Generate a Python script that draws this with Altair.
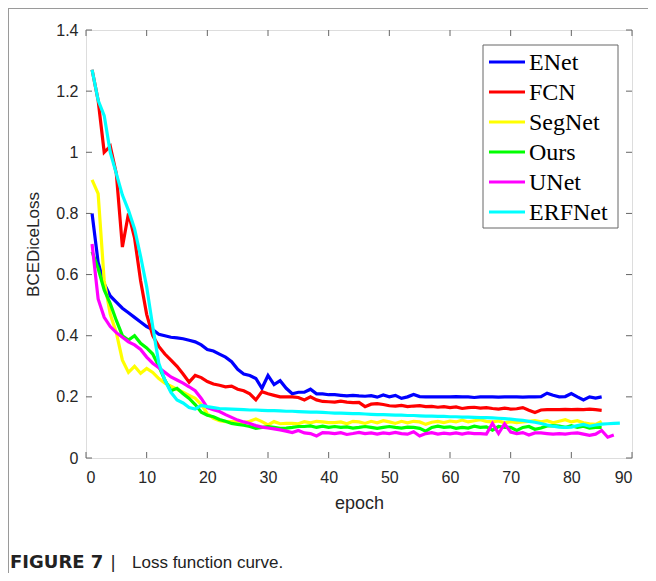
import altair as alt
import pandas as pd

series_names = ["ENet", "FCN", "SegNet", "Ours", "UNet", "ERFNet"]
series_colors = ["#0000FF", "#FF0000", "#FFFF00", "#00FF00", "#FF00FF", "#00FFFF"]
series_widths = [3.2, 3.2, 3.2, 3.2, 2.6, 3.2]
legend_widths = [4, 4, 4, 4, 2.5, 4]

enet = [0.80, 0.64, 0.57, 0.53, 0.51, 0.49, 0.475, 0.46, 0.445, 0.43,
        0.42, 0.405, 0.40, 0.395, 0.393, 0.39, 0.385, 0.38, 0.37, 0.355,
        0.35, 0.34, 0.33, 0.315, 0.29, 0.275, 0.27, 0.26, 0.228, 0.27,
        0.24, 0.253, 0.228, 0.21, 0.215, 0.215, 0.225, 0.21, 0.21, 0.207,
        0.207, 0.205, 0.203, 0.205, 0.203, 0.202, 0.204, 0.199, 0.206, 0.2,
        0.205, 0.195, 0.2, 0.208, 0.201, 0.2, 0.2, 0.2, 0.2, 0.2,
        0.201, 0.2, 0.2, 0.198, 0.2, 0.2, 0.2, 0.199, 0.2, 0.2,
        0.2, 0.199, 0.2, 0.2, 0.201, 0.212, 0.205, 0.2, 0.201, 0.211,
        0.2, 0.19, 0.2, 0.196, 0.2]

fcn = [1.27, 1.17, 1.0, 1.02, 0.93, 0.69, 0.80, 0.72, 0.58, 0.47,
       0.40, 0.365, 0.34, 0.32, 0.30, 0.275, 0.248, 0.27, 0.263, 0.25,
       0.242, 0.238, 0.233, 0.235, 0.225, 0.22, 0.21, 0.19, 0.217, 0.21,
       0.205, 0.2, 0.2, 0.2, 0.198, 0.19, 0.2, 0.19, 0.185, 0.184,
       0.183, 0.186, 0.183, 0.181, 0.182, 0.168, 0.176, 0.178, 0.175, 0.171,
       0.17, 0.172, 0.168, 0.17, 0.171, 0.168, 0.169, 0.166, 0.168, 0.165,
       0.167, 0.162, 0.165, 0.166, 0.163, 0.165, 0.162, 0.16, 0.163, 0.16,
       0.161, 0.165, 0.156, 0.149, 0.157, 0.158, 0.158, 0.158, 0.159, 0.158,
       0.159, 0.158, 0.16, 0.158, 0.156]

segnet = [0.91, 0.865, 0.58, 0.47, 0.41, 0.32, 0.28, 0.30, 0.277, 0.293,
          0.28, 0.26, 0.245, 0.235, 0.225, 0.215, 0.205, 0.195, 0.175, 0.145,
          0.13, 0.122, 0.119, 0.119, 0.118, 0.116, 0.12, 0.128, 0.119, 0.108,
          0.119, 0.112, 0.113, 0.113, 0.112, 0.119, 0.115, 0.12, 0.118, 0.116,
          0.116, 0.118, 0.112, 0.12, 0.118, 0.113, 0.12, 0.115, 0.122, 0.118,
          0.113, 0.12, 0.115, 0.12, 0.118, 0.11, 0.117, 0.12, 0.116, 0.121,
          0.118, 0.124, 0.118, 0.122, 0.125, 0.12, 0.118, 0.121, 0.115, 0.119,
          0.116, 0.118, 0.12, 0.122, 0.118, 0.122, 0.115, 0.12, 0.125, 0.118,
          0.122, 0.115, 0.112, 0.11, 0.12]

ours = [0.675, 0.62, 0.55, 0.505, 0.45, 0.40, 0.386, 0.40, 0.375, 0.36,
        0.34, 0.30, 0.255, 0.22, 0.228, 0.21, 0.195, 0.175, 0.15, 0.14,
        0.135, 0.126, 0.12, 0.113, 0.11, 0.107, 0.103, 0.097, 0.1, 0.103,
        0.1, 0.097, 0.098, 0.1, 0.103, 0.103, 0.105, 0.1, 0.104, 0.1,
        0.103, 0.1, 0.102, 0.098, 0.1, 0.103, 0.1, 0.097, 0.1, 0.103,
        0.1, 0.098, 0.101, 0.1, 0.097, 0.088, 0.1, 0.104, 0.1, 0.102,
        0.097, 0.1, 0.098, 0.104, 0.1, 0.102, 0.091, 0.103, 0.1, 0.1,
        0.09, 0.1, 0.103, 0.094, 0.098, 0.105, 0.106, 0.104, 0.1, 0.106,
        0.1, 0.104, 0.098, 0.1, 0.1]

unet = [0.70, 0.52, 0.46, 0.43, 0.41, 0.395, 0.38, 0.37, 0.355, 0.33,
        0.31, 0.295, 0.28, 0.265, 0.255, 0.245, 0.233, 0.22, 0.195, 0.165,
        0.158, 0.152, 0.142, 0.133, 0.124, 0.118, 0.113, 0.106, 0.101, 0.098,
        0.095, 0.092, 0.088, 0.083, 0.09, 0.082, 0.08, 0.072, 0.083, 0.082,
        0.08, 0.083, 0.077, 0.08, 0.084, 0.08, 0.082, 0.078, 0.082, 0.08,
        0.084, 0.08, 0.078, 0.086, 0.072, 0.08, 0.083, 0.078, 0.081, 0.079,
        0.082, 0.078, 0.082, 0.08, 0.08, 0.078, 0.113, 0.08, 0.112, 0.085,
        0.08, 0.083, 0.075, 0.082, 0.082, 0.08, 0.078, 0.08, 0.078, 0.081,
        0.082, 0.078, 0.074, 0.078, 0.09, 0.068, 0.075]

erfnet = [1.27, 1.17, 1.12, 1.0, 0.93, 0.86, 0.81, 0.75, 0.66, 0.56,
          0.43, 0.31, 0.255, 0.215, 0.19, 0.18, 0.165, 0.16, 0.172, 0.168,
          0.165, 0.162, 0.161, 0.16, 0.159, 0.158, 0.157, 0.157, 0.156, 0.155,
          0.155, 0.154, 0.153, 0.153, 0.152, 0.151, 0.15, 0.15, 0.149, 0.148,
          0.147, 0.147, 0.146, 0.145, 0.145, 0.144, 0.143, 0.142, 0.142, 0.141,
          0.14, 0.14, 0.139, 0.139, 0.138, 0.137, 0.137, 0.136, 0.136, 0.135,
          0.135, 0.134, 0.134, 0.133, 0.132, 0.132, 0.131, 0.13, 0.129, 0.127,
          0.125, 0.123, 0.12, 0.117, 0.113, 0.108, 0.104, 0.101, 0.1, 0.101,
          0.106, 0.11, 0.104, 0.108, 0.111, 0.112, 0.113, 0.114]

x_ticks = [0, 10, 20, 30, 40, 50, 60, 70, 80, 90]
y_ticks = [0, 0.2, 0.4, 0.6, 0.8, 1.0, 1.2, 1.4]

rows = []
for si, (name, vals) in enumerate(zip(series_names, [enet, fcn, segnet, ours, unet, erfnet])):
    for i, v in enumerate(vals):
        rows.append({"epoch": i + 1, "loss": v, "model": name, "order": si})
df = pd.DataFrame(rows)
legdf = pd.DataFrame({"model": series_names})

W, H = 546, 428
AX = "#666666"
FONT = "Liberation Sans"

xscale = alt.Scale(domain=[0, 90], nice=False)
yscale = alt.Scale(domain=[0, 1.4], nice=False)
cscale = alt.Scale(domain=series_names, range=series_colors)

X_ENC = alt.X("epoch:Q", scale=xscale, title="epoch",
              axis=alt.Axis(values=x_ticks, grid=False, domain=False, ticks=False,
                            labelPadding=11, labelFontSize=16, labelFont=FONT,
                            labelColor="#262626", titleFont=FONT, titleFontSize=18,
                            titleFontWeight="normal", titleColor="#262626", titlePadding=9))

lines = alt.Chart(df).mark_line(clip=True).encode(
    x=X_ENC,
    y=alt.Y("loss:Q", scale=yscale, title="BCEDiceLoss",
            axis=alt.Axis(values=y_ticks, format="~g", grid=False, domain=False, ticks=False,
                          labelPadding=8, labelFontSize=16, labelFont=FONT,
                          labelColor="#262626", titleFont=FONT, titleFontSize=17,
                          titleFontWeight="normal", titleColor="#262626", titlePadding=13)),
    color=alt.Color("model:N", scale=cscale, legend=None),
    strokeWidth=alt.StrokeWidth("model:N", scale=alt.Scale(domain=series_names, range=series_widths), legend=None),
    detail="model:N",
    order=alt.Order("order:Q"),
)

xt = pd.DataFrame({"epoch": x_ticks})
yt = pd.DataFrame({"t": y_ticks})

tick_bottom = alt.Chart(xt).mark_rule(color=AX, strokeWidth=1).encode(
    x=X_ENC, y=alt.value(H), y2=alt.value(H - 6))
tick_top = alt.Chart(xt).mark_rule(color=AX, strokeWidth=1).encode(
    x=X_ENC, y=alt.value(0), y2=alt.value(6))
tick_left = alt.Chart(yt).mark_rule(color=AX, strokeWidth=1).encode(
    y=alt.Y("t:Q", scale=yscale, axis=None), x=alt.value(0), x2=alt.value(6))
tick_right = alt.Chart(yt).mark_rule(color=AX, strokeWidth=1).encode(
    y=alt.Y("t:Q", scale=yscale, axis=None), x=alt.value(W), x2=alt.value(W - 6))

# manual legend box
leg_box = alt.Chart(pd.DataFrame({"a": [0]})).mark_rect(
    fill="white", stroke=AX, strokeWidth=1
).encode(x=alt.value(397), x2=alt.value(532), y=alt.value(15), y2=alt.value(198))

leg_y = alt.Y("model:N", sort=series_names,
              scale=alt.Scale(type="point", domain=series_names, range=[32, 182], padding=0),
              axis=None)
leg_lines = alt.Chart(legdf).mark_rule().encode(
    y=leg_y, x=alt.value(403), x2=alt.value(439),
    color=alt.Color("model:N", scale=cscale, legend=None),
    strokeWidth=alt.StrokeWidth("model:N", scale=alt.Scale(domain=series_names, range=legend_widths), legend=None),
)
leg_text = alt.Chart(legdf).mark_text(
    align="left", baseline="middle", font="Liberation Serif", fontSize=24, color="black", dy=1
).encode(y=leg_y, x=alt.value(443), text="model:N")

frame_top = alt.Chart(pd.DataFrame({"a": [0]})).mark_rule(color="#9a9a9a", strokeWidth=1).encode(
    x=alt.value(-78), x2=alt.value(W + 16), y=alt.value(-21.5))
frame_left = alt.Chart(pd.DataFrame({"a": [0]})).mark_rule(color="#9a9a9a", strokeWidth=1).encode(
    x=alt.value(-77.5), y=alt.value(-22), y2=alt.value(H + 115))

cap1 = alt.Chart(pd.DataFrame({"s": ["FIGURE 7"]})).mark_text(
    align="left", baseline="middle", font="DejaVu Sans", fontSize=18, fontWeight="bold", color="#222222"
).encode(x=alt.value(-76), y=alt.value(533), text="s:N")
cap2 = alt.Chart(pd.DataFrame({"s": ["|"]})).mark_text(
    align="center", baseline="middle", font=FONT, fontSize=18, color="#222222"
).encode(x=alt.value(27), y=alt.value(533), text="s:N")
cap3 = alt.Chart(pd.DataFrame({"s": ["Loss function curve."]})).mark_text(
    align="left", baseline="middle", font=FONT, fontSize=17, color="#222222"
).encode(x=alt.value(46), y=alt.value(533), text="s:N")

chart = alt.layer(
    lines, tick_bottom, tick_top, tick_left, tick_right,
    leg_box, leg_lines, leg_text,
    frame_top, frame_left, cap1, cap2, cap3
).resolve_scale(
    y="independent"
).properties(
    width=W, height=H,
    autosize=alt.AutoSizeParams(type="none"),
    padding={"left": 78, "top": 22, "right": 16, "bottom": 115},
).configure_view(stroke=AX, strokeWidth=1).configure(background="white")

chart.save("out.html", embed_options={"renderer": "svg", "actions": False})
